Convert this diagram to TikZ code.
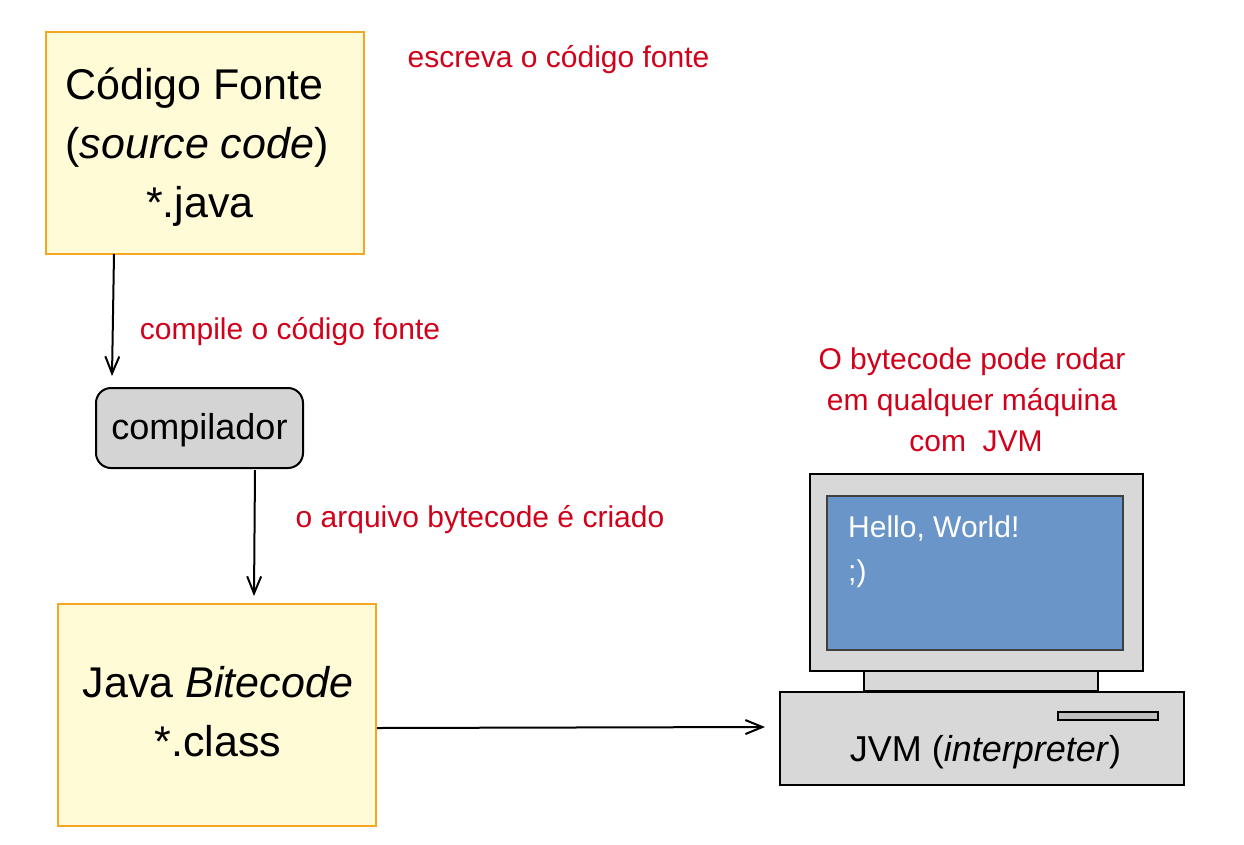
\documentclass[tikz,border=0pt]{standalone}
\usepackage{fontspec}
\setmainfont{Liberation Sans}
\usetikzlibrary{arrows.meta}
\definecolor{BoxYellow}{HTML}{FFFBD7}
\definecolor{BoxOrange}{HTML}{F5A623}
\definecolor{NoteRed}{HTML}{D0021B}
\definecolor{PcGray}{HTML}{D8D8D8}
\definecolor{ScreenBlue}{HTML}{6A95C8}
\tikzset{
    filebox/.style={draw=BoxOrange, fill=BoxYellow, line width=2pt, minimum width=318pt, minimum height=222pt, inner sep=0pt},
    pcpart/.style={draw=black, fill=PcGray, line width=2pt, inner sep=0pt},
    bigtext/.style={font=\fontsize{43}{59}\selectfont, align=center, inner sep=0pt},
    pctext/.style={font=\fontsize{36}{40}\selectfont, inner sep=0pt},
    note/.style={text=NoteRed, font=\fontsize{30}{41}\selectfont, align=center, inner sep=0pt},
    flow/.style={draw=black, line width=2pt, -{Straight Barb[length=17pt,width=14pt]}}
}

\begin{document}
\begin{tikzpicture}[x=1pt, y=-1pt]

\useasboundingbox (0,0) rectangle (1244,844);

% Files and compiler
\node [filebox] (SourceBox) at (205,143) {};
\node [bigtext] (SourceText) at (197,147) {\mbox{Código Fonte\hspace{5pt}}\\(\textit{source code})\\\hspace{6pt}*.java};
\node [pcpart, rounded corners=15pt, fill=PcGray!98!black, minimum width=207pt, minimum height=80pt, text height=29pt, text depth=5.6pt, font=\fontsize{36}{40}\selectfont] (Compiler) at (199.5,428) {compilador};
\node [filebox] (BytecodeBox) at (217,715) {};
\node [bigtext] (BytecodeText) at (218,712) {Java \textit{Bitecode}\\*.class};

% Computer
\node [pcpart, minimum width=333pt, minimum height=197pt] (Monitor) at (976.5,572.5) {};
\node [draw=black!75, fill=ScreenBlue, line width=2pt, minimum width=296pt, minimum height=154pt, inner sep=0pt] (Screen) at (975,573) {};
\node [pcpart, minimum width=234pt, minimum height=20pt] (Stand) at (981,681) {};
\node [pcpart, minimum width=404pt, minimum height=93pt] (Base) at (982,738.5) {};
\node [pcpart, fill=black!25, minimum width=100pt, minimum height=8pt] (Slot) at (1108,716) {};
\node [pctext] (BaseText) at (985.5,752) {JVM (\textit{interpreter})};
\node [text=white, font=\fontsize{30}{44}\selectfont, align=left, inner sep=0pt, anchor=north west] (Hello) at (848,516) {Hello, World!\\;)};

% Red notes
\node [note] (NoteWrite) at (558.5,60) {escreva o código fonte};
\node [note] (NoteCompile) at (290,332) {compile o código fonte};
\node [note] (NoteCreated) at (480,520) {o arquivo bytecode é criado};
\node [note] (NoteAny) at (972,400) {O bytecode pode rodar\\em qualquer máquina\\\hspace{8pt}com\ \ JVM};

% Connector ends
\coordinate (SourceOut) at (114,254);
\coordinate (CompilerIn) at (112,376);
\coordinate (CompilerOut) at (255,470);
\coordinate (BytecodeIn) at (254,596);
\coordinate (BytecodeOut) at (377,728);
\coordinate (BaseIn) at (765,727);

\draw [flow] (SourceOut) -- (CompilerIn);
\draw [flow] (CompilerOut) -- (BytecodeIn);
\draw [flow] (BytecodeOut) -- (BaseIn);

\end{tikzpicture}
\end{document}
